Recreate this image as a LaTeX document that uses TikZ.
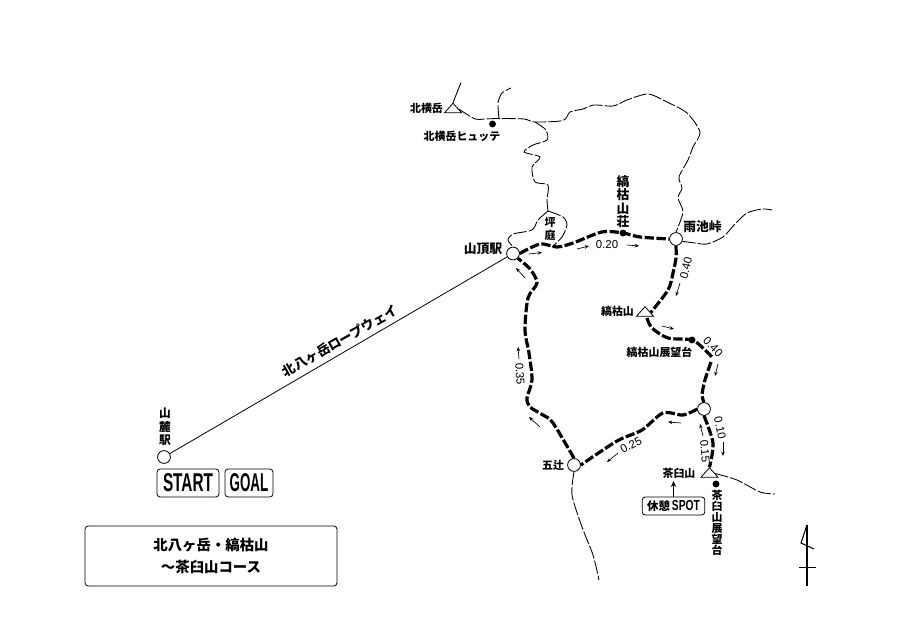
\documentclass[tikz,border=0pt]{standalone}
\usepackage{fontspec}
\setmainfont{Noto Sans CJK JP}
\newfontfamily\lat{Liberation Sans}
\usetikzlibrary{arrows.meta,shapes.geometric}
\newcommand{\jpt}[2]{\fontsize{#1}{#2}\selectfont\bfseries}
\tikzset{
  trail/.style={line width=0.65pt,dash pattern=on 10pt off 1.6pt,smooth,tension=0.45},
  route/.style={line width=2.4pt,dash pattern=on 7pt off 1.9pt,smooth,tension=0.5},
  station/.style={circle,draw,fill=white,line width=0.6pt,minimum size=9.6pt,inner sep=0pt},
  hut/.style={circle,fill=black,minimum size=5.2pt,inner sep=0pt},
  peak/.style={isosceles triangle,isosceles triangle apex angle=84,shape border rotate=90,draw,fill=white,line width=0.6pt,minimum height=7.2pt,minimum width=12.6pt,inner sep=0pt},
  lbl/.style={inner sep=0pt,align=center,font=\jpt{8.2pt}{8.25pt}},
  biglbl/.style={inner sep=0pt,align=center,font=\jpt{9.6pt}{10.1pt}},
  time/.style={inner sep=0pt,font=\lat\fontsize{8.6pt}{8.6pt}\selectfont},
  dir/.style={line width=0.5pt,-{Stealth[length=3.2pt,width=2.6pt]}},
  tag/.style={draw,rounded corners=2.4pt,line width=0.6pt,inner sep=0pt,fill=white,align=center},
}
\begin{document}
\begin{tikzpicture}[x=0.75pt,y=-0.75pt]
\useasboundingbox[fill=white] (0,0) rectangle (900,620);
% nodes
\node[station] (sanroku) at (164,457) {};
\node[station] (sancho) at (513,253.5) {};
\node[station] (amaike) at (676,239) {};
\node[station] (bunki) at (704,409) {};
\node[station] (gotsuji) at (574,465) {};
\node[hut] (shimagare) at (623,233) {};
\node[hut] (tenbo) at (692,340) {};
\node[hut] (yokohut) at (492.5,124) {};
\node[hut] (chatenbo) at (716,484) {};
\node[peak] (yokodake) at (453,109) {};
\node[peak] (shimayama) at (645,312.5) {};
\node[peak] (chausu) at (709.5,473.5) {};
\coordinate (forkA) at (499,118.5);
\coordinate (forkB) at (535,122);
\coordinate (forkC) at (548,211);
\coordinate (forkD) at (552,247);
% ropeway
\draw[line width=0.6pt] (sanroku) -- (sancho);
% thin trails
\draw[line width=0.65pt] (yokodake.north) -- +(8,-20);
\draw[trail] plot coordinates {(yokodake.east) (475,119) (484,119) (forkA) (524,119) (forkB) (563,120.5) (570,112) (583,109) (594,105)  (613,106) (627,100) (648,94) (667,102) (687,113) (700,132) (693,147) (688,160) (679,177) (682,188) (678,198) (683,212) (amaike.north)};
\draw[trail] plot coordinates {(forkA) (498,103) (502,93) (511,88)};
\draw[trail] plot coordinates {(forkB) (546,130) (547,140) (533,145) (524,152) (540,157) (532,167) (535,182) (548,185) (547,200) (forkC)};
\draw[trail] plot coordinates {(forkC) (538,220) (532,230) (513,234) (508,240) (sancho.north)};
\draw[trail] plot coordinates {(forkC) (563,217) (567,225) (562,237) (forkD)};
\draw[trail] plot coordinates {(amaike.-20) (695,243) (707,244) (723,237) (735,224) (747,213) (762,209) (772,210)};
\draw[trail] plot coordinates {(gotsuji.south) (572,495) (582,527) (593,555) (599,580)};
\draw[trail] plot coordinates {(chausu.east) (737,480) (760,492) (775,494)};
% thick route
\draw[route] plot coordinates {(sancho.east) (540,244) (557,247) (573,243) (602,232) (shimagare) (640,237) (amaike.west)};
\draw[route] plot coordinates {(amaike.south) (676,258) (673,273) (668,290) (shimayama.east)};
\draw[route] plot coordinates {(647,318) (652,328) (668,338) (tenbo) (704,349) (712,357)};
\draw[route] plot coordinates {(711,362) (705,380) (702,395) (bunki.north)};
\draw[route] plot coordinates {(bunki.west) (683,415) (663,413) (642,430) (617,441) (gotsuji.east)};
\draw[route] plot coordinates {(gotsuji.north) (553,423) (543,415) (530,407) (527,398) (532,380) (529,353) (525,330) (528,298) (537,283) (530,269) (sancho.south east)};
\draw[route] plot coordinates {(bunki.south) (713,443) (chausu.north)};
% direction arrows
\draw[dir] (529,254) -- (542,252.5);
\draw[dir] (577,249) -- (589,246);
\draw[dir] (627,245) -- (639,246);
\draw[dir] (680,283) -- (676,296);
\draw[dir] (662,326) -- (674,329);
\draw[dir] (718,364) -- (715,376);
\draw[dir] (723,442) -- (723,456);
\draw[dir] (703,436) -- (700,424);
\draw[dir] (681,423) -- (668,422);
\draw[dir] (618,453) -- (607,462);
\draw[dir] (540,427) -- (529,417);
\draw[dir] (519,359) -- (518,347);
\draw[dir] (525,278) -- (516,268);
% times
\node[time] (t20) at (607,245) {0.20};
\node[time,rotate=77] (t40a) at (686,268) {0.40};
\node[time,rotate=-45] (t40b) at (713,347) {0.40};
\node[time,rotate=-78] (t10) at (720,428) {0.10};
\node[time,rotate=-85] (t15) at (705,451) {0.15};
\node[time,rotate=27] (t25) at (631,445) {0.25};
\node[time,rotate=-87] (t35) at (520,374) {0.35};
% labels
\node[lbl] (lyoko) at (426.5,108) {北横岳};
\node[lbl] (lyokoh) at (462,136) {北横岳ヒュッテ};
\node[lbl] (ltsubo) at (550,229) {坪\\[1pt]庭};
\node[biglbl] (lsancho) at (483,249) {山頂駅};
\node[biglbl] (lshima) at (623,201.5) {縞\\枯\\山\\荘};
\node[biglbl] (lamaike) at (702.5,227) {雨池峠};
\node[lbl] (lsy) at (617.5,311) {縞枯山};
\node[lbl] (lten) at (659.5,352) {縞枯山展望台};
\node[lbl] (lgo) at (553,465) {五辻};
\node[lbl] (lcha) at (679,473) {茶臼山};
\node[lbl] (lchat) at (717,523) {茶\\臼\\山\\展\\望\\台};
\node[lbl,font=\jpt{8.8pt}{10pt}] (lsan) at (165,427) {山\\麓\\駅};
\node[inner sep=0pt,rotate=29.5,font=\jpt{9.8pt}{10pt}] (lrope) at (340,341) {北八ヶ岳ロープウェイ};
% tags
\node[tag,minimum width=46.5pt,minimum height=21pt] (start) at (188,483) {\resizebox{37.5pt}{13.5pt}{\lat\bfseries START}};
\node[tag,minimum width=36pt,minimum height=21pt] (goal) at (249,483) {\resizebox{29pt}{13.5pt}{\lat\bfseries GOAL}};
\node[tag,minimum width=47pt,minimum height=13.5pt,font=\jpt{8.6pt}{9pt}] (spot) at (673.5,506) {休憩\,\resizebox{21pt}{7.6pt}{\lat SPOT}};
\draw[line width=1.3pt,-{Stealth[length=4.5pt,width=4pt]}] (spot.north) -- (673.5,481);
% title
\node[tag,minimum width=189pt,minimum height=45pt,font=\jpt{10.8pt}{17pt}] (title) at (211,556) {北八ヶ岳・縞枯山\\～茶臼山コース};
% north mark
\coordinate (nt) at (807,525);
\coordinate (nb) at (807,586);
\draw[line width=0.8pt] (nt) -- (nb);
\draw[line width=0.8pt] (nt) -- (801,543) -- (814,549);
\draw[line width=0.7pt] (799,567) -- (816,567);
\end{tikzpicture}
\end{document}
